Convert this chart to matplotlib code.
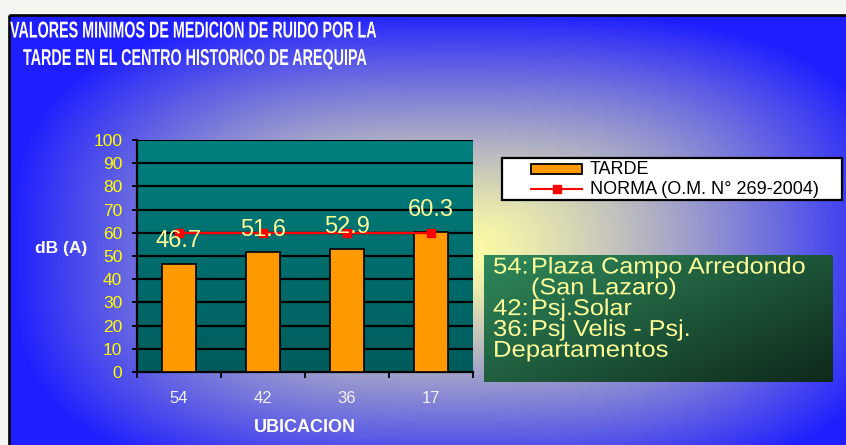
import numpy as np
import matplotlib
matplotlib.use("Agg")
import matplotlib.pyplot as plt
from matplotlib.patches import Rectangle
from matplotlib.lines import Line2D
from matplotlib.transforms import Affine2D
from matplotlib import patheffects

plt.rcParams['font.family'] = ['Liberation Sans', 'DejaVu Sans']

# datos
ubicaciones = ['54', '42', '36', '17']
tarde = [46.7, 51.6, 52.9, 60.3]
norma = [60, 60, 60, 60]
y_ticks = [0, 10, 20, 30, 40, 50, 60, 70, 80, 90, 100]
leyenda = ['TARDE', 'NORMA (O.M. N° 269-2004)']
titulo = ['VALORES MINIMOS DE MEDICION DE RUIDO POR LA',
          'TARDE EN EL CENTRO HISTORICO DE AREQUIPA']
notas = [('54:', 'Plaza Campo Arredondo'), ('', '(San Lazaro)'),
         ('42:', 'Psj.Solar'), ('36:', 'Psj Velis - Psj.'),
         ('Departamentos', '')]

W, H = 846, 445


class Stretch(patheffects.AbstractPathEffect):
    """estira el texto solo en horizontal, anclado en x0 (pixeles)"""
    def __init__(self, sx, x0):
        super().__init__()
        self.sx = sx
        self.x0 = x0

    def draw_path(self, renderer, gc, tpath, affine, rgbFace=None):
        extra = Affine2D().translate(-self.x0, 0).scale(self.sx, 1).translate(self.x0, 0)
        renderer.draw_path(gc, tpath, affine + extra, rgbFace)


fig = plt.figure(figsize=(W / 100, H / 100), dpi=100)
fig.patch.set_facecolor('#F4F6F2')

# fondo de la diapositiva (degradado desde el centro)
bg = fig.add_axes([0, 0, 1, 1])
bg.axis('off')
xx, yy = np.meshgrid(np.arange(10, W), np.arange(16, H))
dx = (xx - 455) / 445.0
dy = (yy - 250) / 240.0
d = np.clip((np.abs(dx) ** 3 + np.abs(dy) ** 3) ** (1 / 3.0), 0, 1)
t = d ** 1.3
c0 = np.array([255, 255, 165]) / 255.0
c1 = np.array([30, 30, 255]) / 255.0
img = c0[None, None, :] * (1 - t[..., None]) + c1[None, None, :] * t[..., None]
bg.imshow(img, extent=[10, W, H, 16], aspect='auto', zorder=0)
bg.add_patch(Rectangle((9, 15.2), W, H, fill=False, edgecolor='black', lw=1.9, zorder=1))

# recuadro verde con las ubicaciones
gx, gy = np.meshgrid(np.linspace(0, 1, 200), np.linspace(0, 1, 80))
s = np.clip((gx * 0.55 + gy * 0.45), 0, 1)[..., None]
g0 = np.array([47, 138, 92]) / 255.0
g1 = np.array([14, 40, 26]) / 255.0
gimg = g0 * (1 - s) + g1 * s
bg.imshow(gimg, extent=[484, 833, 382, 255], aspect='auto', zorder=2)
for i, (num, txt) in enumerate(notas):
    yl = 267 + i * 20.8
    if num:
        bg.text(493, yl, num, color='#FFFF99', fontsize=16.5, va='center', zorder=3,
                path_effects=[Stretch(1.12, 493)])
    if txt:
        bg.text(531, yl, txt, color='#FFFF99', fontsize=16.5, va='center', zorder=3,
                path_effects=[Stretch(1.1, 531)])

# leyenda
bg.add_patch(Rectangle((502, 158), 340, 42, facecolor='white', edgecolor='black', lw=1.6, zorder=3))
bg.add_patch(Rectangle((531, 164), 51, 10, facecolor='#FF9900', edgecolor='black', lw=1.3, zorder=4))
bg.add_line(Line2D([531, 556.5, 582], [189, 189, 189], color='red', lw=1.5, marker='s',
                   markersize=6, markevery=[1], zorder=4))
bg.text(590, 169, leyenda[0], fontsize=13, va='center', color='black', zorder=4)
bg.text(590, 189, leyenda[1], fontsize=13, va='center', color='black', zorder=4)

# titulo (letra condensada)
bg.text(10, 31, titulo[0], color='white', fontsize=16.5, fontweight='bold', va='center',
        zorder=3, path_effects=[Stretch(0.625, 10)])
bg.text(23, 58.5, titulo[1], color='white', fontsize=16.5, fontweight='bold', va='center',
        zorder=3, path_effects=[Stretch(0.625, 23)])

bg.set_xlim(0, W)
bg.set_ylim(H, 0)

# grafico de barras
ax = fig.add_axes([137 / W, (H - 372) / H, 336 / W, 232 / H])
x = np.arange(len(ubicaciones))
grad = np.linspace(0, 1, 100)[:, None]
t0 = np.array([0, 128, 128]) / 255.0
t1 = np.array([0, 92, 92]) / 255.0
pimg = (t0 * (1 - grad[..., None]) + t1 * grad[..., None])
ax.imshow(pimg, extent=[-0.5, 3.5, 0, 100], origin='upper', aspect='auto', zorder=0)
ax.set_xlim(-0.5, len(ubicaciones) - 0.5)
ax.set_ylim(0, 100)

for yv in y_ticks[1:]:
    ax.axhline(yv, color='black', lw=1.6, zorder=1)

ax.bar(x, tarde, width=0.4, color='#FF9900', edgecolor='black', linewidth=1.2, zorder=3)
ax.plot(x, norma, color='red', lw=1.7, marker='s', markersize=6, zorder=4)
for xi, v in zip(x, tarde):
    ax.annotate(f'{v:.1f}', (xi, v), xytext=(0, 16), textcoords='offset points',
                ha='center', va='center', color='#FFFF99', fontsize=17, zorder=5)

ax.set_yticks(y_ticks)
ax.tick_params(axis='y', colors='black', labelcolor='#FFFF00', labelsize=12.5,
               length=3.6, width=1.3, pad=7, direction='out')
ax.set_xticks(x)
ax.set_xticklabels(ubicaciones)
ax.set_xticks(np.arange(len(ubicaciones) + 1) - 0.5, minor=True)
ax.tick_params(axis='x', which='major', length=0, labelcolor='#F2F2F2', labelsize=12, pad=14)
ax.tick_params(axis='x', which='minor', length=4.5, width=1.3, color='black')

for sp in ['top', 'right']:
    ax.spines[sp].set_visible(False)
ax.spines['left'].set_linewidth(1.6)
ax.spines['bottom'].set_linewidth(1.6)

ax.set_xlabel('UBICACION', color='white', fontsize=13, fontweight='bold', va='center')
ax.xaxis.set_label_coords(0.5, -(428 - 372) / 232)
ax.set_ylabel('dB (A)', color='white', fontsize=12.5, fontweight='bold', rotation=0,
              va='center', ha='center')
ax.yaxis.set_label_coords((61 - 137) / 336, (372 - 248) / 232)

fig.savefig('out.png', dpi=100, facecolor=fig.get_facecolor())
